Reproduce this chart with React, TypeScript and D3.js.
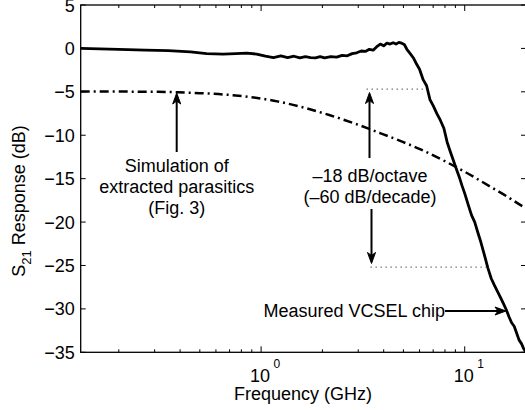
import React from "react";
import * as d3 from "d3";

const measFreq = [0.13, 0.2, 0.27, 0.35, 0.45, 0.54, 0.65, 0.75, 0.85, 0.95, 1.05, 1.15, 1.25, 1.35, 1.45, 1.55, 1.65, 1.75, 1.85, 1.95, 2.05, 2.2, 2.35, 2.5, 2.65, 2.8, 2.95, 3.1, 3.25, 3.4, 3.55, 3.7, 3.85, 4.0, 4.15, 4.3, 4.45, 4.6, 4.75, 4.9, 5.05, 5.2, 5.4, 5.6, 5.8, 6.0, 6.25, 6.5, 6.75, 7.0, 7.3, 7.6, 7.9, 8.2, 8.5, 8.8, 9.1, 9.4, 9.7, 10.0, 10.4, 10.8, 11.2, 11.6, 12.0, 12.5, 13.0, 13.5, 14.0, 14.5, 15.0, 15.5, 16.0, 16.5, 17.0, 17.5, 18.0, 18.5, 19.0, 19.5, 20.0];
const measDb = [0.0, -0.1, -0.2, -0.25, -0.4, -0.6, -0.65, -0.6, -0.55, -0.65, -0.9, -1.05, -0.85, -1.05, -0.9, -1.1, -0.95, -1.05, -1.1, -0.95, -1.1, -0.95, -1.0, -0.8, -0.85, -0.6, -0.5, -0.3, -0.35, -0.1, -0.2, 0.2, 0.5, 0.3, 0.6, 0.5, 0.65, 0.5, 0.7, 0.6, 0.45, -0.1, -0.6, -1.1, -1.8, -2.4, -3.6, -4.3, -5.9, -6.6, -7.5, -8.3, -9.2, -10.8, -11.9, -12.9, -13.9, -14.8, -15.8, -16.7, -18.0, -19.2, -20.0, -21.2, -22.3, -23.8, -25.3, -26.5, -27.3, -28.0, -28.7, -29.4, -30.1, -30.9, -31.6, -32.0, -32.8, -33.6, -34.0, -34.6, -35.0];

const simFreq = [0.13, 0.2, 0.3, 0.39, 0.5, 0.65, 0.88, 1.2, 1.55, 2.18, 3.0, 3.84, 5.0, 6.03, 8.16, 10.0, 13.3, 16.0, 19.3, 20.0];
const simDb = [-4.95, -4.97, -5.0, -5.05, -5.15, -5.3, -5.6, -6.1, -6.7, -7.7, -8.8, -9.75, -10.8, -11.6, -13.1, -14.2, -15.9, -17.0, -18.2, -18.4];

const yTicks = [5, 0, -5, -10, -15, -20, -25, -30, -35];
const xMajor = [1, 10];
const xMajorExp = ["0", "1"];
const xMinor = [0.2, 0.3, 0.4, 0.5, 0.6, 0.7, 0.8, 0.9, 2, 3, 4, 5, 6, 7, 8, 9, 20];

const simLabel = ["Simulation of", "extracted parasitics", "(Fig. 3)"];
const slopeLabel = ["\u201318 dB/octave", "(\u201360 dB/decade)"];
const measLabel = "Measured VCSEL chip";

const L = 80.7, R = 526, T = 5, B = 352.3;
const FONT = "'Liberation Sans', Arial, Helvetica, sans-serif";

function Arrow({ x1, y1, x2, y2 }: { x1: number; y1: number; x2: number; y2: number }) {
  const ang = (Math.atan2(y2 - y1, x2 - x1) * 180) / Math.PI;
  return (
    <g>
      <line x1={x1} y1={y1} x2={x2 - 6 * Math.cos((ang * Math.PI) / 180)} y2={y2 - 6 * Math.sin((ang * Math.PI) / 180)} stroke="#000" strokeWidth={2} />
      <path d="M0,0 L-11,-4 L-8,0 L-11,4 Z" fill="#000" stroke="#000" strokeWidth={1} transform={`translate(${x2},${y2}) rotate(${ang})`} />
    </g>
  );
}

export default function App() {
  const x = d3.scaleLog().domain([0.13, 20]).range([L, R]);
  const y = d3.scaleLinear().domain([-35, 5]).range([B, T]);

  const line = d3.line<[number, number]>().x((d) => x(d[0])).y((d) => y(d[1]));
  const lineSmooth = d3.line<[number, number]>().x((d) => x(d[0])).y((d) => y(d[1])).curve(d3.curveMonotoneX);

  const meas = measFreq.map((f, i) => [f, measDb[i]] as [number, number]);
  const sim = simFreq.map((f, i) => [f, simDb[i]] as [number, number]);

  const dotTopY = y(-4.7);
  const dotBotY = y(-25.2);

  return (
    <svg width={525} height={410} style={{ position: "absolute", left: 0, top: 0, background: "#fff" }} fontFamily={FONT}>
      <rect x={0} y={0} width={525} height={410} fill="#fff" />
      <defs>
        <clipPath id="plot">
          <rect x={L} y={T} width={R - L} height={B - T} />
        </clipPath>
      </defs>

      {/* axes box */}
      <rect x={L} y={T} width={R - L} height={B - T} fill="none" stroke="#000" strokeWidth={1.3} />

      {/* y ticks */}
      {yTicks.map((v) => (
        <g key={"y" + v}>
          <line x1={L} x2={L + 5} y1={y(v)} y2={y(v)} stroke="#000" strokeWidth={1} />
          <line x1={R - 5} x2={R} y1={y(v)} y2={y(v)} stroke="#000" strokeWidth={1} />
          <text x={L - 6} y={y(v) + 6.5} textAnchor="end" fontSize={18}>
            {v < 0 ? "\u2212" + Math.abs(v) : String(v)}
          </text>
        </g>
      ))}

      {/* x ticks */}
      {xMinor.map((v) => (
        <g key={"m" + v}>
          <line x1={x(v)} x2={x(v)} y1={B} y2={B - 3} stroke="#000" strokeWidth={1} />
          <line x1={x(v)} x2={x(v)} y1={T} y2={T + 3} stroke="#000" strokeWidth={1} />
        </g>
      ))}
      {xMajor.map((v, i) => (
        <g key={"M" + v}>
          <line x1={x(v)} x2={x(v)} y1={B} y2={B - 6} stroke="#000" strokeWidth={1} />
          <line x1={x(v)} x2={x(v)} y1={T} y2={T + 6} stroke="#000" strokeWidth={1} />
          <text x={x(v) - 1} y={382} textAnchor="middle" fontSize={18}>10</text>
          <text x={x(v) + 12.5} y={368} textAnchor="start" fontSize={12}>{xMajorExp[i]}</text>
        </g>
      ))}

      {/* axis labels */}
      <text x={303} y={400} textAnchor="middle" fontSize={18}>Frequency (GHz)</text>
      <text transform={`translate(25,201) rotate(-90)`} textAnchor="middle" fontSize={18}>
        S<tspan fontSize={13} dy={6}>21</tspan>
        <tspan dy={-6}> Response (dB)</tspan>
      </text>

      {/* curves */}
      <g clipPath="url(#plot)">
        <path d={lineSmooth(sim) || ""} fill="none" stroke="#000" strokeWidth={2.5} strokeDasharray="9,4,2,4" />
        <path d={line(meas) || ""} fill="none" stroke="#000" strokeWidth={2.8} strokeLinejoin="round" />
      </g>

      {/* dotted guides */}
      <line x1={x(3.3)} x2={x(6.4)} y1={dotTopY} y2={dotTopY} stroke="#333" strokeWidth={1.2} strokeDasharray="1,4" />
      <line x1={x(3.45)} x2={x(13.0)} y1={dotBotY} y2={dotBotY} stroke="#333" strokeWidth={1.2} strokeDasharray="1,4" />

      {/* annotations */}
      <Arrow x1={176.7} y1={152} x2={176.7} y2={93} />
      {simLabel.map((s, i) => (
        <text key={s} x={176.7} y={171.5 + i * 21.3} textAnchor="middle" fontSize={18}>{s}</text>
      ))}

      <Arrow x1={369.5} y1={158} x2={369.5} y2={92.5} />
      {slopeLabel.map((s, i) => (
        <text key={s} x={370} y={181.5 + i * 21.3} textAnchor="middle" fontSize={18}>{s}</text>
      ))}
      <Arrow x1={371.5} y1={209} x2={371.5} y2={263.5} />

      <text x={445} y={316.5} textAnchor="end" fontSize={18}>{measLabel}</text>
      <Arrow x1={445} y1={311} x2={506} y2={311} />
    </svg>
  );
}
